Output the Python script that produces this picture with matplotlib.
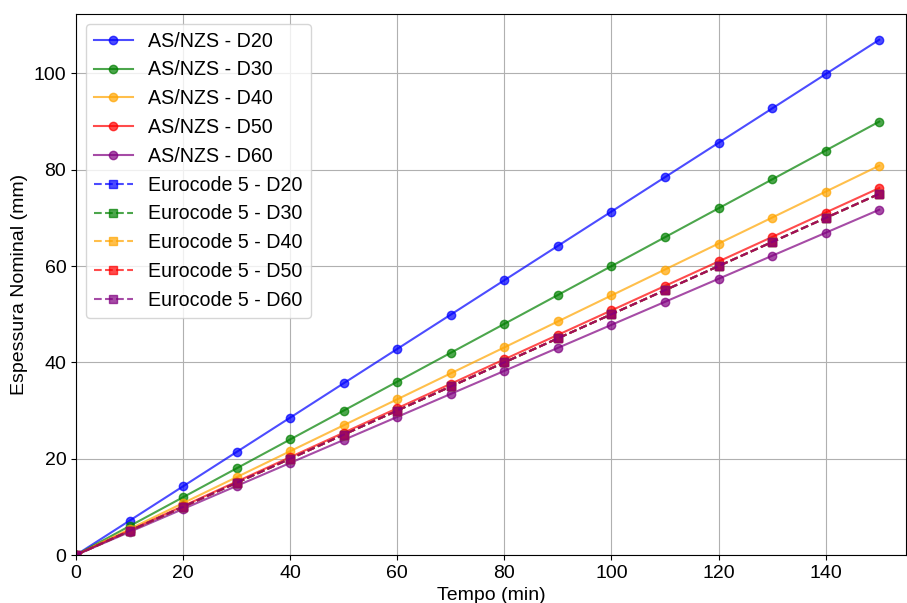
import matplotlib.pyplot as plt

plt.rcParams['font.family'] = ['Liberation Sans', 'DejaVu Sans']

tempo = [0, 10, 20, 30, 40, 50, 60, 70, 80, 90, 100, 110, 120, 130, 140, 150]

# AS/NZS
as_d20 = [0, 7.13, 14.27, 21.40, 28.53, 35.67, 42.80, 49.93, 57.07, 64.20, 71.33, 78.47, 85.60, 92.73, 99.87, 107.0]
as_d30 = [0, 6.0, 12.0, 18.0, 24.0, 30.0, 36.0, 42.0, 48.0, 54.0, 60.0, 66.0, 72.0, 78.0, 84.0, 90.0]
as_d40 = [0, 5.39, 10.78, 16.17, 21.56, 26.95, 32.34, 37.73, 43.12, 48.51, 53.90, 59.29, 64.68, 70.07, 75.46, 80.85]
as_d50 = [0, 5.08, 10.16, 15.24, 20.32, 25.40, 30.48, 35.56, 40.64, 45.72, 50.80, 55.88, 60.96, 66.04, 71.12, 76.20]
as_d60 = [0, 4.78, 9.56, 14.34, 19.12, 23.90, 28.68, 33.46, 38.24, 43.02, 47.80, 52.58, 57.36, 62.14, 66.92, 71.70]

# Eurocode 5
ec_d20 = [0, 5, 10, 15, 20, 25, 30, 35, 40, 45, 50, 55, 60, 65, 70, 75]
ec_d30 = [0, 5, 10, 15, 20, 25, 30, 35, 40, 45, 50, 55, 60, 65, 70, 75]
ec_d40 = [0, 5, 10, 15, 20, 25, 30, 35, 40, 45, 50, 55, 60, 65, 70, 75]
ec_d50 = [0, 5, 10, 15, 20, 25, 30, 35, 40, 45, 50, 55, 60, 65, 70, 75]
ec_d60 = [0, 5, 10, 15, 20, 25, 30, 35, 40, 45, 50, 55, 60, 65, 70, 75]

cores = ['blue', 'green', 'orange', 'red', 'purple']
nomes = ['D20', 'D30', 'D40', 'D50', 'D60']

fig = plt.figure(figsize=(9.07, 6.03), dpi=100)
ax = fig.add_axes([76/907, 48/603, 830/907, 541/603])

for serie, cor, nome in zip([as_d20, as_d30, as_d40, as_d50, as_d60], cores, nomes):
    ax.plot(tempo, serie, '-o', color=cor, alpha=0.7, markersize=6, label='AS/NZS - ' + nome)
for serie, cor, nome in zip([ec_d20, ec_d30, ec_d40, ec_d50, ec_d60], cores, nomes):
    ax.plot(tempo, serie, '--s', color=cor, alpha=0.7, markersize=6, label='Eurocode 5 - ' + nome)

ax.set_xlim(0, 155)
ax.set_ylim(0, None)
ax.set_xlabel('Tempo (min)', fontsize=14)
ax.set_ylabel('Espessura Nominal (mm)', fontsize=14)
ax.tick_params(labelsize=14)
ax.grid(True, color='#b0b0b0', linewidth=0.8)
ax.legend(fontsize=14.1, loc='upper left')

fig.savefig('out.png', dpi=100)
